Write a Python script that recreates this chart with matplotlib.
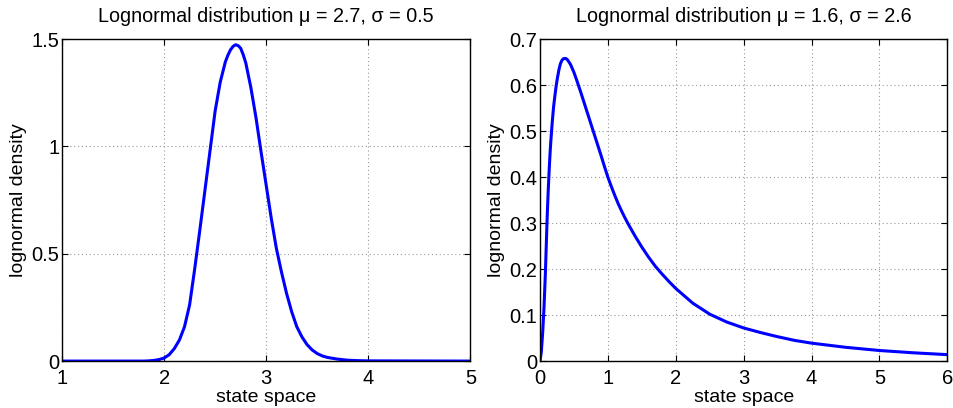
import matplotlib.pyplot as plt

plt.rcParams['font.family'] = ['Liberation Sans', 'DejaVu Sans']

# left panel: mu = 2.7, sigma = 0.5
x_left = [1.0, 1.8, 1.85, 1.9, 1.95, 2.0, 2.05, 2.1, 2.15, 2.2, 2.25, 2.3, 2.35,
          2.4, 2.45, 2.5, 2.55, 2.6, 2.625, 2.65, 2.675, 2.7, 2.725, 2.75, 2.775,
          2.8, 2.85, 2.9, 2.95, 3.0, 3.05, 3.1, 3.15, 3.2, 3.25, 3.3, 3.35, 3.4,
          3.45, 3.5, 3.55, 3.6, 3.7, 3.8, 3.9, 4.0, 5.0]
y_left = [0, 0, 0.001, 0.003, 0.007, 0.014, 0.030, 0.058, 0.098, 0.160, 0.262,
          0.430, 0.610, 0.795, 0.980, 1.165, 1.300, 1.394, 1.425, 1.450, 1.466,
          1.474, 1.470, 1.458, 1.428, 1.390, 1.275, 1.135, 0.975, 0.820, 0.665,
          0.525, 0.415, 0.315, 0.230, 0.160, 0.113, 0.077, 0.052, 0.035, 0.024,
          0.017, 0.009, 0.004, 0.002, 0.001, 0]

# right panel: mu = 1.6, sigma = 2.6
x_right = [0, 0.02, 0.04, 0.06, 0.08, 0.09, 0.1, 0.11, 0.12, 0.13, 0.14, 0.15,
           0.16, 0.18, 0.2, 0.22, 0.24, 0.26, 0.28, 0.3, 0.32, 0.34, 0.36, 0.38,
           0.4, 0.42, 0.45, 0.5, 0.55, 0.6, 0.65, 0.7, 0.75, 0.8, 0.85, 0.9, 0.95,
           1.0, 1.05, 1.1, 1.15, 1.2, 1.25, 1.3, 1.4, 1.5, 1.6, 1.7, 1.8, 1.9,
           2.0, 2.25, 2.5, 2.75, 3.0, 3.25, 3.5, 3.75, 4.0, 4.5, 5.0, 5.5, 6.0]
y_right = [0, 0.020, 0.062, 0.118, 0.192, 0.238, 0.285, 0.328, 0.365, 0.398,
           0.428, 0.455, 0.478, 0.518, 0.552, 0.577, 0.600, 0.618, 0.634, 0.646,
           0.653, 0.657, 0.658, 0.658, 0.656, 0.652, 0.645, 0.628, 0.607, 0.585,
           0.562, 0.539, 0.516, 0.493, 0.470, 0.447, 0.423, 0.400, 0.380, 0.361,
           0.343, 0.327, 0.312, 0.298, 0.272, 0.248, 0.226, 0.206, 0.189, 0.173,
           0.158, 0.126, 0.102, 0.085, 0.072, 0.062, 0.053, 0.045, 0.039, 0.030,
           0.023, 0.018, 0.014]

panels = [
    (x_left, y_left, 'Lognormal distribution μ = 2.7, σ = 0.5',
     (1, 5), [1, 2, 3, 4, 5], (0, 1.5), [0, 0.5, 1, 1.5], ['0', '0.5', '1', '1.5']),
    (x_right, y_right, 'Lognormal distribution μ = 1.6, σ = 2.6',
     (0, 6), [0, 1, 2, 3, 4, 5, 6], (0, 0.7), [0, 0.1, 0.2, 0.3, 0.4, 0.5, 0.6, 0.7],
     ['0', '0.1', '0.2', '0.3', '0.4', '0.5', '0.6', '0.7']),
]
boxes = [[0.065, 0.115, 0.428, 0.789], [0.566, 0.115, 0.427, 0.789]]

fig = plt.figure(figsize=(9.54, 4.08), dpi=100)
for box, (xs, ys, title, xlim, xt, ylim, yt, ytl) in zip(boxes, panels):
    ax = fig.add_axes(box)
    ax.plot(xs, ys, color='#0000ff', lw=2.2, solid_joinstyle='round',
            solid_capstyle='round')
    ax.set_xlim(*xlim)
    ax.set_ylim(*ylim)
    ax.set_xticks(xt)
    ax.set_xticklabels([str(v) for v in xt])
    ax.set_yticks(yt)
    ax.set_yticklabels(ytl)
    ax.grid(True, color='#999999', linestyle=(0, (1, 2.5)), linewidth=0.8)
    ax.tick_params(direction='in', top=True, right=True, length=4,
                   labelsize=14.5)
    ax.tick_params(axis='x', pad=6)
    ax.tick_params(axis='y', pad=2)
    for s in ax.spines.values():
        s.set_linewidth(1.0)
    ax.set_title(title, fontsize=14.2, pad=12.5)
    ax.set_xlabel('state space', fontsize=14, labelpad=0.5)
    ax.set_ylabel('lognormal density', fontsize=14, labelpad=3)

fig.savefig('out.png', dpi=100)
